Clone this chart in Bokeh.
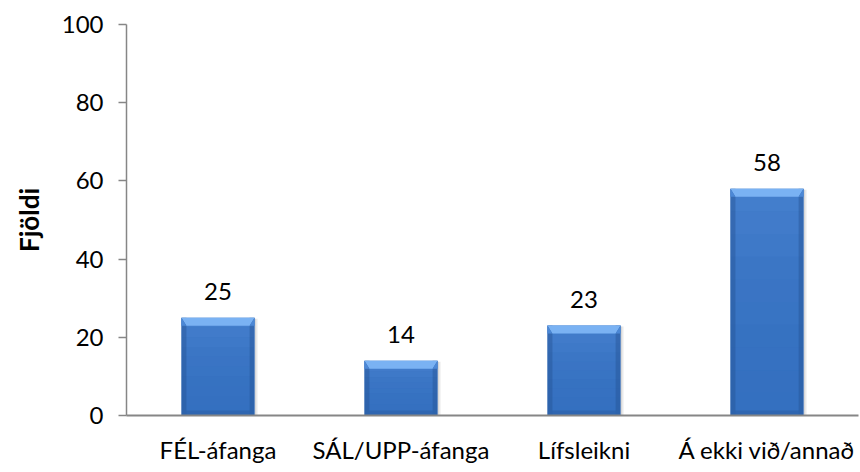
from bokeh.plotting import figure
from bokeh.models import Range1d, FixedTicker, ColumnDataSource, LinearAxis
from bokeh.core.properties import value
from bokeh.embed import file_html
from bokeh.resources import INLINE

# Data
categories = ["FÉL-áfanga", "SÁL/UPP-áfanga", "Lífsleikni", "Á ekki við/annað"]
counts = [25, 14, 23, 58]
y_ticks = [0, 20, 40, 60, 80, 100]

FONT = "Lato"
W, H = 860, 472
LEFT, RIGHT, TOP, BOTTOM = 126, 2, 24, 57
n = len(categories)
x_max = float(n)
y_max = 100.0
px_x = x_max / (W - LEFT - RIGHT)   # data units per pixel along x
px_y = y_max / (H - TOP - BOTTOM)   # data units per pixel along y

p = figure(width=W, height=H, output_backend="svg", toolbar_location=None,
           x_range=Range1d(0, x_max), y_range=Range1d(0, y_max),
           min_border_left=LEFT, min_border_right=RIGHT,
           min_border_top=TOP, min_border_bottom=BOTTOM,
           x_axis_location=None, y_axis_location=None)
p.outline_line_color = None
p.grid.visible = False
p.background_fill_color = "white"
p.border_fill_color = "white"

xc = [i + 0.5 for i in range(n)]
bw = 0.40
half = bw / 2
lefts = [x - half for x in xc]
rights = [x + half for x in xc]

# soft drop shadow to the right of each bar
p.quad(left=rights, right=[r + 3 * px_x for r in rights],
       bottom=[0] * n, top=[c - 1 * px_y for c in counts],
       fill_color="#000000", fill_alpha=0.08, line_color=None)
p.quad(left=rights, right=[r + 1.5 * px_x for r in rights],
       bottom=[0] * n, top=[c - 1 * px_y for c in counts],
       fill_color="#000000", fill_alpha=0.08, line_color=None)

# bar body
p.quad(left=lefts, right=rights, bottom=[0] * n, top=counts,
       fill_color="#3570C0", line_color=None)

# vertical shading: lighter towards the top of the bar
steps = 10
for s in range(steps):
    frac0 = s / steps
    frac1 = (s + 1) / steps
    p.quad(left=lefts, right=rights,
           bottom=[c * frac0 for c in counts], top=[c * frac1 for c in counts],
           fill_color="#6FA8F0", fill_alpha=0.25 * frac1 ** 2, line_color=None)

# darker left/right edges
edge = 5 * px_x
p.quad(left=lefts, right=[l + edge for l in lefts], bottom=[0] * n, top=counts,
       fill_color="#24508F", fill_alpha=0.40, line_color=None)
p.quad(left=[r - edge for r in rights], right=rights, bottom=[0] * n, top=counts,
       fill_color="#24508F", fill_alpha=0.40, line_color=None)

# darker bottom strip
bstrip = 5 * px_y
p.quad(left=[l + edge for l in lefts], right=[r - edge for r in rights],
       bottom=[0] * n, top=[bstrip] * n,
       fill_color="#24508F", fill_alpha=0.30, line_color=None)

# top bevel
bev = 8 * px_y
xs_top, ys_top, xs_l, ys_l, xs_r, ys_r = [], [], [], [], [], []
for l, r, c in zip(lefts, rights, counts):
    xs_top.append([l, r, r - edge, l + edge])
    ys_top.append([c, c, c - bev, c - bev])
    xs_l.append([l, l + edge, l + edge, l])
    ys_l.append([c, c - bev, c - bev, c - bev])
    xs_r.append([r, r - edge, r - edge, r])
    ys_r.append([c, c - bev, c - bev, c - bev])
p.patches(xs_top, ys_top, fill_color="#7AB2F3", line_color=None)
p.patches(xs_l, ys_l, fill_color="#4C88D6", line_color=None)
p.patches(xs_r, ys_r, fill_color="#4C88D6", line_color=None)

# value labels
src = ColumnDataSource(dict(x=xc, y=counts, t=[str(c) for c in counts]))
p.text(x="x", y="y", text="t", source=src, y_offset=-26,
       text_align="center", text_baseline="alphabetic",
       text_font=value(FONT), text_font_size="24px", text_color="#000000")

# axes
xaxis = LinearAxis(ticker=FixedTicker(ticks=xc),
                   major_label_overrides={x: c for x, c in zip(xc, categories)})
xaxis.axis_line_color = "#868686"
xaxis.axis_line_width = 2
xaxis.major_tick_line_color = None
xaxis.minor_tick_line_color = None
xaxis.major_label_text_font = FONT
xaxis.major_label_text_font_size = "24px"
xaxis.major_label_text_color = "#000000"
xaxis.major_label_standoff = 13
p.add_layout(xaxis, "below")

yaxis = LinearAxis(ticker=FixedTicker(ticks=y_ticks), axis_label="Fjöldi")
yaxis.axis_line_color = "#868686"
yaxis.axis_line_width = 1.5
yaxis.major_tick_line_color = "#868686"
yaxis.major_tick_line_width = 1.5
yaxis.major_tick_out = 8
yaxis.major_tick_in = 0
yaxis.minor_tick_line_color = None
yaxis.major_label_text_font = FONT
yaxis.major_label_text_font_size = "24px"
yaxis.major_label_text_color = "#000000"
yaxis.major_label_standoff = 15
yaxis.axis_label_text_font = FONT
yaxis.axis_label_text_font_size = "26px"
yaxis.axis_label_text_font_style = "bold"
yaxis.axis_label_text_color = "#000000"
yaxis.axis_label_standoff = 14
p.add_layout(yaxis, "left")

open("out.html", "w").write(file_html(p, INLINE))
